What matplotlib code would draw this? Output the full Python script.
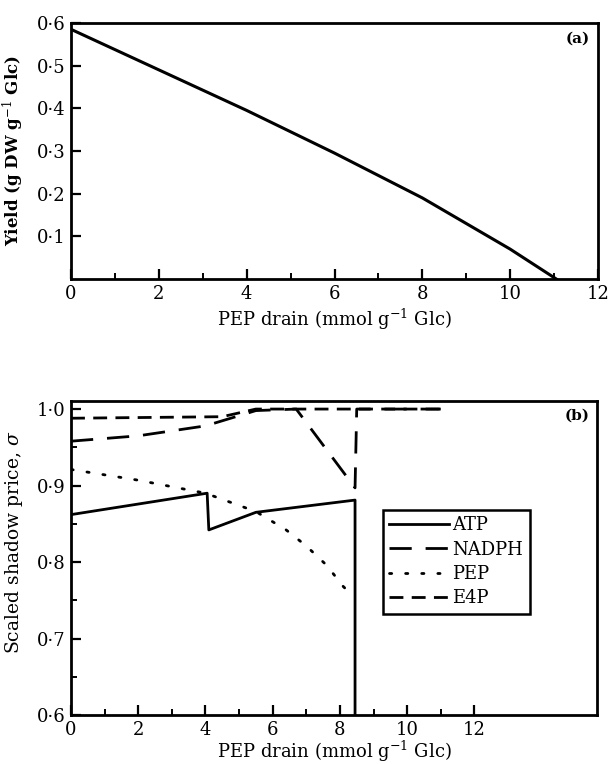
import matplotlib
matplotlib.use('Agg')
import matplotlib.pyplot as plt
from matplotlib.ticker import FuncFormatter, MultipleLocator, FixedLocator

plt.rcParams['font.family'] = 'DejaVu Serif'
plt.rcParams['mathtext.fontset'] = 'dejavuserif'

# (a) yield vs PEP drain
yield_x = [0, 2, 4, 6, 8, 10, 11.05]
yield_y = [0.585, 0.49, 0.395, 0.295, 0.19, 0.07, 0.0]

# (b) scaled shadow prices
atp_x = [0, 4.05, 4.1, 5.5, 8.45, 8.45, 8.45]
atp_y = [0.862, 0.890, 0.842, 0.865, 0.881, 0.881, 0.6]
nadph_x = [0, 2, 4, 5.5, 6.7, 8.45, 8.5, 11]
nadph_y = [0.958, 0.965, 0.978, 0.998, 1.0, 0.897, 1.0, 1.0]
pep_x = [0, 2, 4, 5.5, 6.4, 7.0, 7.6, 8.1, 8.4]
pep_y = [0.921, 0.907, 0.89, 0.866, 0.842, 0.821, 0.796, 0.768, 0.755]
e4p_x = [0, 4.5, 5.5, 11]
e4p_y = [0.988, 0.99, 1.0, 1.0]


def dot_fmt(v, pos):
    return ('%.1f' % v).replace('.', '\u00b7')


def int_fmt(v, pos):
    return '%d' % v


fig = plt.figure(figsize=(6.08, 7.64), dpi=100)

ax1 = fig.add_axes([0.1168, 0.6348, 0.8668, 0.3352])
ax1.plot(yield_x, yield_y, color='black', lw=2.2)
ax1.set_xlim(0, 12)
ax1.set_ylim(0, 0.6)
ax1.xaxis.set_major_locator(MultipleLocator(2))
ax1.xaxis.set_minor_locator(MultipleLocator(1))
ax1.yaxis.set_major_locator(FixedLocator([0.1, 0.2, 0.3, 0.4, 0.5, 0.6]))
ax1.yaxis.set_major_formatter(FuncFormatter(dot_fmt))
ax1.xaxis.set_major_formatter(FuncFormatter(int_fmt))
ax1.set_xlabel('PEP drain (mmol g$^{-1}$ Glc)', fontsize=13, labelpad=3)
ax1.set_ylabel('Yield (g DW g$^{-1}$ Glc)', fontsize=12, fontweight='bold')
ax1.yaxis.set_label_coords(-0.085, 0.5)
ax1.text(0.985, 0.965, '(a)', transform=ax1.transAxes, ha='right', va='top',
         fontsize=11, fontweight='bold')

ax2 = fig.add_axes([0.1168, 0.0641, 0.8652, 0.411])
ax2.plot(atp_x, atp_y, color='black', lw=2.0, label='ATP')
ax2.plot(nadph_x, nadph_y, color='black', lw=2.0, dashes=(8, 5), label='NADPH')
ax2.plot(pep_x, pep_y, color='black', lw=2.0, dashes=(0.8, 5), dash_capstyle='round',
         label='PEP')
ax2.plot(e4p_x, e4p_y, color='black', lw=2.0, dashes=(5, 3), label='E4P')
ax2.set_xlim(0, 15.65)
ax2.set_ylim(0.6, 1.0105)
ax2.xaxis.set_major_locator(FixedLocator([0, 2, 4, 6, 8, 10, 12]))
ax2.xaxis.set_minor_locator(FixedLocator([1, 3, 5, 7, 9, 11]))
ax2.yaxis.set_major_locator(FixedLocator([0.6, 0.7, 0.8, 0.9, 1.0]))
ax2.yaxis.set_minor_locator(FixedLocator([0.65, 0.75, 0.85, 0.95]))
ax2.yaxis.set_major_formatter(FuncFormatter(dot_fmt))
ax2.xaxis.set_major_formatter(FuncFormatter(int_fmt))
ax2.set_xlabel('PEP drain (mmol g$^{-1}$ Glc)', fontsize=13, labelpad=0)
ax2.set_ylabel('Scaled shadow price, $\\sigma$', fontsize=13.5)
ax2.yaxis.set_label_coords(-0.088, 0.55)
ax2.text(0.985, 0.975, '(b)', transform=ax2.transAxes, ha='right', va='top',
         fontsize=11, fontweight='bold')
leg = ax2.legend(loc='upper left', bbox_to_anchor=(0.593, 0.653), fontsize=13,
                 handlelength=3.3, handletextpad=0.2, borderpad=0.35,
                 labelspacing=0.35, borderaxespad=0, fancybox=False,
                 edgecolor='black', framealpha=1)
leg.get_frame().set_linewidth(1.8)

for ax in (ax1, ax2):
    for s in ax.spines.values():
        s.set_linewidth(2.0)
    ax.tick_params(which='major', direction='in', length=7, width=1.6,
                   labelsize=13, pad=4)
    ax.tick_params(which='minor', direction='in', length=4, width=1.4)
    ax.tick_params(top=False, right=False)

fig.savefig('out.png', dpi=100)
